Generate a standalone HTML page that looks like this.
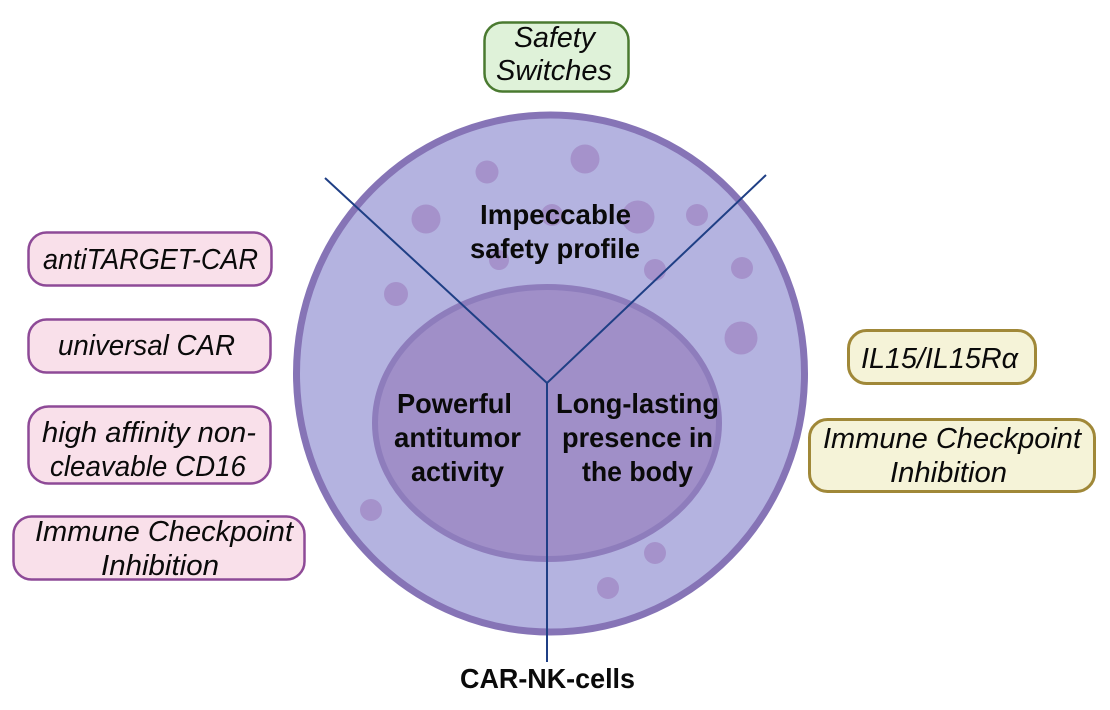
<!DOCTYPE html>
<html>
<head>
<meta charset="utf-8">
<style>
html,body{margin:0;padding:0;background:#fff;width:1110px;height:710px;overflow:hidden}
svg{display:block}
text{font-family:"Liberation Sans",sans-serif;fill:#0a0a0a}
.pk{fill:#f9e0ea;stroke:#8e4a97;stroke-width:2.5}
.yl{fill:#f5f3d8;stroke:#a08838;stroke-width:3}
.gr{fill:#dff2d9;stroke:#4a7a30;stroke-width:2.5}
.d{fill:#a592cb}
</style>
</head>
<body>
<svg width="1110" height="710" viewBox="0 0 1110 710" xmlns="http://www.w3.org/2000/svg">
<rect class="gr" x="484.5" y="22.5" width="144" height="69" rx="18"/>
<rect class="pk" x="28.5" y="232.5" width="243" height="53" rx="18"/>
<rect class="pk" x="28.5" y="319.5" width="242" height="53" rx="18"/>
<rect class="pk" x="28.5" y="406.5" width="242" height="77" rx="20"/>
<rect class="pk" x="13.5" y="516.5" width="291" height="63" rx="18"/>
<rect class="yl" x="848.5" y="330.5" width="187" height="53" rx="18"/>
<rect class="yl" x="809.5" y="419.5" width="285" height="72" rx="18"/>

<ellipse cx="550.5" cy="373.5" rx="254" ry="258.5" fill="#b4b3e0" stroke="#8674b6" stroke-width="7"/>
<circle class="d" cx="585" cy="159" r="14.5"/>
<circle class="d" cx="487" cy="172" r="11.5"/>
<circle class="d" cx="426" cy="219" r="14.5"/>
<circle class="d" cx="638" cy="217" r="16.5"/>
<circle class="d" cx="552" cy="215" r="11"/>
<circle class="d" cx="697" cy="215" r="11"/>
<circle class="d" cx="499" cy="260" r="10"/>
<circle class="d" cx="655" cy="270" r="11"/>
<circle class="d" cx="742" cy="268" r="11"/>
<circle class="d" cx="396" cy="294" r="12"/>
<circle class="d" cx="741" cy="338" r="16.5"/>
<circle class="d" cx="371" cy="510" r="11"/>
<circle class="d" cx="655" cy="553" r="11"/>
<circle class="d" cx="608" cy="588" r="11"/>
<ellipse cx="547" cy="423" rx="172" ry="136" fill="#a08fc8" stroke="#8e7dbc" stroke-width="6"/>

<path d="M325 178 L547 383 L766 175 M547 383 L547 662" fill="none" stroke="#1f3f85" stroke-width="2"/>

<g style="font-style:italic;font-size:28.5px">
<text x="514" y="47" textLength="81" lengthAdjust="spacingAndGlyphs">Safety</text>
<text x="496" y="80" textLength="116" lengthAdjust="spacingAndGlyphs">Switches</text>
<text x="43" y="269" textLength="215" lengthAdjust="spacingAndGlyphs">antiTARGET-CAR</text>
<text x="58" y="355" textLength="177" lengthAdjust="spacingAndGlyphs">universal CAR</text>
<text x="42" y="442" textLength="214" lengthAdjust="spacingAndGlyphs">high affinity non-</text>
<text x="50" y="476" textLength="196" lengthAdjust="spacingAndGlyphs">cleavable CD16</text>
<text x="35" y="541" textLength="258" lengthAdjust="spacingAndGlyphs">Immune Checkpoint</text>
<text x="101" y="575" textLength="118" lengthAdjust="spacingAndGlyphs">Inhibition</text>
<text x="861" y="368" textLength="157" lengthAdjust="spacingAndGlyphs">IL15/IL15Rα</text>
<text x="823" y="448" textLength="258" lengthAdjust="spacingAndGlyphs">Immune Checkpoint</text>
<text x="890" y="482" textLength="117" lengthAdjust="spacingAndGlyphs">Inhibition</text>
</g>
<g style="font-weight:bold;font-size:28px">
<text x="480" y="224" textLength="151" lengthAdjust="spacingAndGlyphs">Impeccable</text>
<text x="470" y="258" textLength="170" lengthAdjust="spacingAndGlyphs">safety profile</text>
<text x="397" y="413" textLength="115" lengthAdjust="spacingAndGlyphs">Powerful</text>
<text x="394" y="447" textLength="127" lengthAdjust="spacingAndGlyphs">antitumor</text>
<text x="411" y="481" textLength="93" lengthAdjust="spacingAndGlyphs">activity</text>
<text x="556" y="413" textLength="163" lengthAdjust="spacingAndGlyphs">Long-lasting</text>
<text x="562" y="447" textLength="151" lengthAdjust="spacingAndGlyphs">presence in</text>
<text x="582" y="481" textLength="111" lengthAdjust="spacingAndGlyphs">the body</text>
<text x="460" y="688" textLength="175" lengthAdjust="spacingAndGlyphs">CAR-NK-cells</text>
</g>
</svg>
</body>
</html>
